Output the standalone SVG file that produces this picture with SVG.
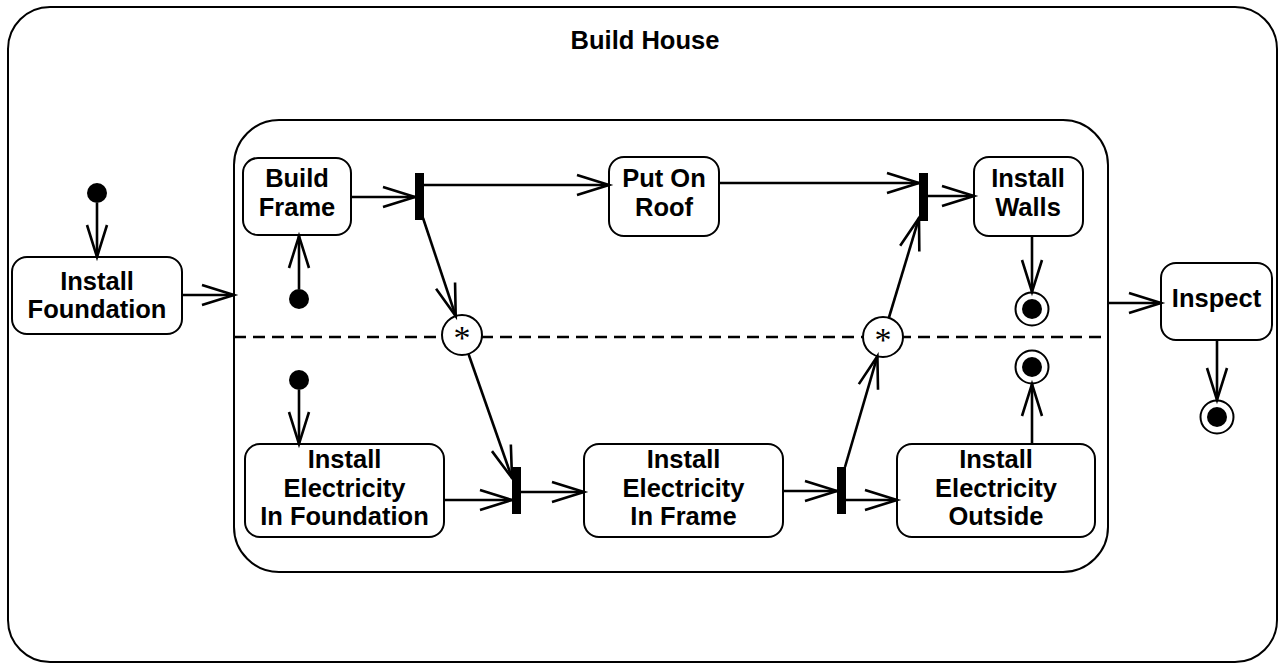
<svg xmlns="http://www.w3.org/2000/svg" width="1279" height="666" viewBox="0 0 1279 666">
<style>
.box{fill:#fff;stroke:#000;stroke-width:2}
.lbl{font-family:"Liberation Sans",Arial,sans-serif;font-weight:bold;font-size:25.5px;text-anchor:middle;fill:#000}
.con{stroke:#000;stroke-width:2.6;fill:none}
.bar{fill:#000}
.dot{fill:#000}
.star{font-family:"Liberation Serif","Times New Roman",serif;font-size:34px;text-anchor:middle;fill:#000}
</style>
<defs>
<marker id="arr" markerUnits="userSpaceOnUse" orient="auto" refX="0" refY="0" markerWidth="40" markerHeight="30" overflow="visible">
<path d="M-32,-10 L0,0 L-32,10" fill="none" stroke="#000" stroke-width="2.6"/>
</marker>
</defs>
<g id="outer">
<rect class="box" x="8" y="7" width="1269" height="655" rx="42"/>
<text class="lbl" x="645" y="49">Build House</text>
</g>
<g id="composite">
<rect class="box" x="234" y="120" width="874" height="452" rx="45"/>
<line x1="234" y1="337" x2="1108" y2="337" stroke="#000" stroke-width="2.6" stroke-dasharray="12 7"/>
</g>
<g id="init1"><circle class="dot" cx="97" cy="193" r="10"/></g>
<g id="install-foundation">
<rect class="box" x="12" y="257" width="170" height="77" rx="15"/>
<text class="lbl" x="97" y="290">Install</text>
<text class="lbl" x="97" y="318">Foundation</text>
</g>
<g id="build-frame">
<rect class="box" x="243" y="158" width="108" height="77" rx="15"/>
<text class="lbl" x="297" y="187">Build</text>
<text class="lbl" x="297" y="216">Frame</text>
</g>
<g id="init2"><circle class="dot" cx="299" cy="299" r="10"/></g>
<g id="fork1"><rect class="bar" x="415" y="173" width="9" height="47"/></g>
<g id="put-on-roof">
<rect class="box" x="609" y="157" width="110" height="79" rx="15"/>
<text class="lbl" x="664" y="187">Put On</text>
<text class="lbl" x="664" y="216">Roof</text>
</g>
<g id="join1"><rect class="bar" x="919" y="173" width="9" height="48"/></g>
<g id="install-walls">
<rect class="box" x="974" y="157" width="109" height="79" rx="15"/>
<text class="lbl" x="1028" y="187">Install</text>
<text class="lbl" x="1028" y="216">Walls</text>
</g>
<g id="final1"><circle class="box" cx="1032" cy="309" r="16.5"/><circle class="dot" cx="1032" cy="309" r="10"/></g>
<g id="sync1"><circle class="box" cx="462" cy="335" r="20"/><text class="star" x="462" y="349">*</text></g>
<g id="sync2"><circle class="box" cx="883" cy="337" r="20"/><text class="star" x="883" y="351">*</text></g>
<g id="final2"><circle class="box" cx="1032" cy="367" r="16.5"/><circle class="dot" cx="1032" cy="367" r="10"/></g>
<g id="init3"><circle class="dot" cx="299" cy="380" r="10"/></g>
<g id="ie-foundation">
<rect class="box" x="245" y="444" width="199" height="93" rx="15"/>
<text class="lbl" x="344.5" y="468">Install</text>
<text class="lbl" x="344.5" y="497">Electricity</text>
<text class="lbl" x="344.5" y="525">In Foundation</text>
</g>
<g id="join2"><rect class="bar" x="512" y="467" width="9" height="47"/></g>
<g id="ie-frame">
<rect class="box" x="584" y="444" width="199" height="93" rx="15"/>
<text class="lbl" x="683.5" y="468">Install</text>
<text class="lbl" x="683.5" y="497">Electricity</text>
<text class="lbl" x="683.5" y="525">In Frame</text>
</g>
<g id="fork2"><rect class="bar" x="837" y="467" width="9" height="47"/></g>
<g id="ie-outside">
<rect class="box" x="897" y="444" width="198" height="93" rx="15"/>
<text class="lbl" x="996" y="468">Install</text>
<text class="lbl" x="996" y="497">Electricity</text>
<text class="lbl" x="996" y="525">Outside</text>
</g>
<g id="inspect">
<rect class="box" x="1161" y="263" width="111" height="77" rx="15"/>
<text class="lbl" x="1216.5" y="307">Inspect</text>
</g>
<g id="final3"><circle class="box" cx="1217" cy="417" r="16.5"/><circle class="dot" cx="1217" cy="417" r="10"/></g>
<g id="connectors" marker-end="url(#arr)">
<line class="con" x1="97" y1="203" x2="97" y2="257"/>
<line class="con" x1="182" y1="295" x2="234" y2="295"/>
<line class="con" x1="299" y1="289" x2="299" y2="236"/>
<line class="con" x1="351" y1="197" x2="415" y2="197"/>
<line class="con" x1="424" y1="185" x2="609" y2="185"/>
<line class="con" x1="423" y1="218" x2="455.7" y2="316"/>
<line class="con" x1="468.5" y1="354" x2="512" y2="478"/>
<line class="con" x1="444" y1="500" x2="512" y2="500"/>
<line class="con" x1="521" y1="492" x2="584" y2="492"/>
<line class="con" x1="299" y1="390" x2="299" y2="444"/>
<line class="con" x1="783" y1="491" x2="837" y2="491"/>
<line class="con" x1="846" y1="500" x2="897" y2="500"/>
<line class="con" x1="845" y1="467" x2="877.4" y2="356.2"/>
<line class="con" x1="888.8" y1="318" x2="919" y2="218"/>
<line class="con" x1="719" y1="183" x2="919" y2="183"/>
<line class="con" x1="928" y1="196" x2="974" y2="196"/>
<line class="con" x1="1032" y1="236" x2="1032" y2="292"/>
<line class="con" x1="1032" y1="444" x2="1032" y2="384"/>
<line class="con" x1="1108" y1="303" x2="1161" y2="303"/>
<line class="con" x1="1217" y1="340" x2="1217" y2="400"/>
</g>
</svg>
